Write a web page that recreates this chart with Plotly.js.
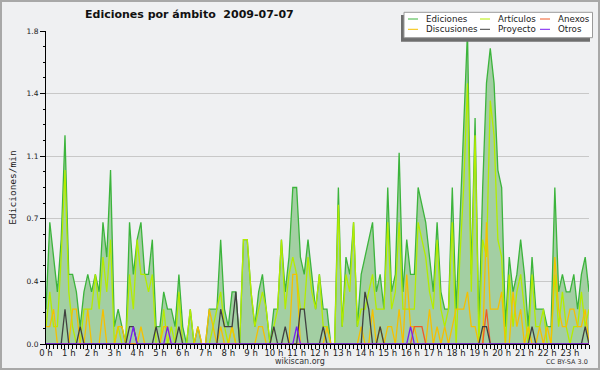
<!DOCTYPE html>
<html><head><meta charset="utf-8">
<script src="https://cdn.plot.ly/plotly-3.0.1.min.js"></script>
<style>html,body{margin:0;padding:0;background:#eff0f2;} #chart{width:600px;height:370px;}</style>
</head><body><div id="chart"></div>
<script>
// ---- data (10-minute slots, edits per minute) ----
const hourLabels = ["0 h","1 h","2 h","3 h","4 h","5 h","6 h","7 h","8 h","9 h","10 h","11 h",
  "12 h","13 h","14 h","15 h","16 h","17 h","18 h","19 h","20 h","21 h","22 h","23 h"];
const hourTicks = [0,6,12,18,24,30,36,42,48,54,60,66,72,78,84,90,96,102,108,114,120,126,132,138];
const yTickVals = [0, 0.36, 0.72, 1.08, 1.44, 1.8];
const yTickText = ["0.0","0.4","0.7","1.1","1.4","1.8"];
const seriesNames = ["Ediciones","Artículos","Anexos","Discusiones","Proyecto","Otros"];

const ediciones = [
 0.2,0.7,0.5,0.3,0.6,1.2,0.4,0.4,0.3,0.1,
 0.3,0.4,0.3,0.4,0.3,0.7,0.5,1.0,0.1,0.2,
 0.1,0.0,0.7,0.4,0.6,0.7,0.4,0.4,0.6,0.1,
 0.1,0.3,0.2,0.2,0.1,0.4,0.1,0.0,0.2,0.0,
 0.1,0.0,0.0,0.2,0.2,0.2,0.6,0.2,0.1,0.3,
 0.3,0.0,0.6,0.6,0.3,0.1,0.3,0.4,0.2,0.0,
 0.2,0.2,0.6,0.3,0.5,0.9,0.9,0.5,0.4,0.6,
 0.4,0.2,0.4,0.2,0.2,0.0,0.0,0.9,0.1,0.5,
 0.4,0.7,0.1,0.4,0.5,0.6,0.7,0.3,0.4,0.2,
 0.9,0.3,0.4,1.1,0.3,0.6,0.4,0.4,0.9,0.8,
 0.7,0.5,0.3,0.7,0.3,0.2,0.2,0.9,0.2,0.7,
 1.2,1.8,0.4,1.3,0.1,0.9,1.5,1.7,1.5,1.0,
 0.9,0.1,0.5,0.3,0.4,0.6,0.4,0.1,0.5,0.2,
 0.2,0.2,0.1,0.1,0.9,0.3,0.4,0.3,0.3,0.4,
 0.2,0.4,0.5,0.3];
const articulos = [
 0.1,0.3,0.1,0.1,0.5,1.0,0.3,0.1,0.0,0.0,
 0.2,0.2,0.2,0.4,0.2,0.5,0.3,0.6,0.0,0.1,
 0.0,0.0,0.4,0.2,0.6,0.4,0.4,0.3,0.4,0.0,
 0.0,0.2,0.0,0.1,0.0,0.3,0.0,0.0,0.2,0.0,
 0.0,0.0,0.0,0.0,0.1,0.2,0.3,0.1,0.0,0.1,
 0.0,0.0,0.6,0.6,0.3,0.1,0.2,0.3,0.2,0.0,
 0.1,0.2,0.6,0.2,0.4,0.5,0.4,0.2,0.2,0.5,
 0.3,0.2,0.4,0.1,0.1,0.0,0.0,0.8,0.1,0.4,
 0.3,0.7,0.1,0.2,0.2,0.3,0.4,0.2,0.2,0.2,
 0.7,0.2,0.3,0.7,0.2,0.2,0.2,0.2,0.7,0.6,
 0.5,0.3,0.2,0.6,0.2,0.1,0.2,0.7,0.0,0.5,
 0.9,1.5,0.3,1.2,0.0,0.6,0.5,1.4,1.2,0.6,
 0.5,0.0,0.4,0.1,0.3,0.4,0.2,0.0,0.4,0.1,
 0.1,0.2,0.0,0.0,0.4,0.1,0.3,0.1,0.0,0.1,
 0.1,0.3,0.1,0.2];
const discusiones = [
 0.1,0.1,0.2,0,0,0,0,0.2,0.2,0,
 0,0.2,0,0,0,0.2,0,0,0,0.1,
 0.1,0,0,0,0,0.1,0,0,0,0,
 0,0.1,0.1,0,0,0,0,0,0,0,
 0.1,0,0,0.2,0.1,0,0.1,0,0,0.1,
 0,0,0,0,0,0,0.1,0.1,0,0,
 0,0,0,0,0,0.4,0.4,0,0,0,
 0,0,0,0,0.1,0,0,0,0,0,
 0,0,0,0.1,0,0,0.2,0,0.1,0,
 0.1,0.1,0,0.2,0,0.4,0.1,0.1,0,0,
 0,0.2,0,0.1,0,0.1,0,0.1,0.2,0.2,
 0.2,0.3,0.1,0.1,0,0,0.7,0.2,0.2,0.2,
 0.3,0,0,0.3,0.1,0.2,0,0.1,0,0,
 0.1,0,0.1,0,0.5,0.2,0.1,0.1,0.2,0.2,
 0.1,0.1,0.2,0];
const proyecto = [
 0,0,0,0,0,0.2,0,0,0,0.1,
 0,0,0,0,0,0,0,0,0,0,
 0,0,0.1,0.1,0,0,0,0,0,0.1,
 0,0,0,0,0,0.1,0,0,0,0,
 0,0,0,0,0,0,0.2,0.1,0.1,0.1,
 0.3,0,0,0,0,0,0,0,0,0,
 0.1,0,0,0.1,0,0,0,0.2,0.2,0,
 0,0,0,0.1,0,0,0,0,0,0,
 0,0,0,0,0.3,0.2,0,0,0.1,0,
 0,0,0,0,0,0,0,0,0,0,
 0,0,0,0,0,0,0,0,0,0,
 0,0,0,0,0,0.1,0.1,0,0,0,
 0,0,0,0,0,0,0,0,0.1,0,
 0,0,0,0,0,0,0,0,0,0,
 0,0,0.1,0];
const anexos = [
 0,0,0,0,0,0,0,0,0,0,
 0,0,0,0,0,0,0,0,0,0,
 0,0,0,0,0,0,0,0,0,0,
 0,0,0,0,0,0,0,0,0,0,
 0,0,0,0,0,0,0,0,0,0,
 0,0,0,0,0,0,0,0,0,0,
 0,0,0,0,0,0,0,0,0,0,
 0,0,0,0,0,0,0,0,0,0,
 0,0,0,0,0,0,0,0,0,0,
 0,0,0,0,0,0,0,0.1,0.1,0.1,
 0,0,0,0,0,0,0,0,0,0,
 0,0,0,0,0,0,0.2,0,0,0,
 0,0,0,0,0,0,0,0,0,0,
 0,0,0,0,0,0,0,0,0,0,
 0,0,0,0];
const otros = [
 0,0,0,0,0,0,0,0,0,0,
 0,0,0,0,0,0,0,0,0,0,
 0,0,0,0.1,0,0,0,0,0,0,
 0,0,0.1,0,0,0,0,0,0,0,
 0,0,0,0,0,0,0,0,0,0,
 0,0,0,0,0,0,0,0,0,0,
 0,0,0,0,0,0,0.1,0,0,0,
 0,0,0,0,0,0,0,0,0,0,
 0,0,0,0,0,0,0,0,0,0,
 0,0,0,0,0,0,0.1,0,0,0,
 0,0,0,0,0,0,0,0,0,0,
 0,0,0,0,0,0,0,0,0,0,
 0,0,0,0,0,0,0,0,0,0,
 0,0,0,0,0,0,0,0,0,0,
 0,0,0,0];

const slots = ediciones.map((_, i) => i);

// ---- styling ----
const colors = {
  Ediciones: "#3cb43c", "Artículos": "#b4ec00", Anexos: "#f05a28",
  Discusiones: "#f5c000", Proyecto: "#404040", Otros: "#7a1cf0"
};
const seriesData = {
  Ediciones: ediciones, "Artículos": articulos, Anexos: anexos,
  Discusiones: discusiones, Proyecto: proyecto, Otros: otros
};
const drawOrder = ["Ediciones","Artículos","Discusiones","Anexos","Proyecto","Otros"];

const L = 46, R = 11, T = 31, B = 26, W = 600, H = 370;
const pw = W - L - R, ph = H - T - B;
const px = x => (x - L) / pw;
const py = y => (H - B - y) / ph;

const traces = drawOrder.map(name => {
  const t = {
    type: "scatter", mode: "lines", name: name,
    x: slots, y: seriesData[name],
    line: {color: colors[name], width: 1.3},
    showlegend: false, hoverinfo: "skip"
  };
  if (name === "Ediciones") { t.fill = "tozeroy"; t.fillcolor = "#a3cfa3"; }
  return t;
});

// manual legend (3 columns x 2 rows)
const shapes = [
  {type:"rect", xref:"paper", yref:"paper", x0:px(1), x1:px(599), y0:py(369), y1:py(1),
   line:{color:"#a8a8a8", width:2}, fillcolor:"rgba(0,0,0,0)", layer:"above"},
  {type:"rect", xref:"paper", yref:"paper", x0:px(401), x1:px(590), y0:py(41.7), y1:py(15),
   line:{width:0}, fillcolor:"#6e6e6e", layer:"above"},
  {type:"rect", xref:"paper", yref:"paper", x0:px(404), x1:px(592.5), y0:py(37.7), y1:py(12.3),
   line:{color:"#9a9a9a", width:1}, fillcolor:"#ffffff", layer:"above"}
];
const annotations = [];
const colX = [[408, 418, 424], [480, 490, 496], [540, 550, 556]];
const rowY = [19, 29.3];
seriesNames.forEach((name, k) => {
  const c = colX[k % 3], r = rowY[Math.floor(k / 3)];
  shapes.push({type:"line", xref:"paper", yref:"paper", x0:px(c[0]), x1:px(c[1]), y0:py(r), y1:py(r),
    line:{color:colors[name], width:1}, layer:"above"});
  annotations.push({xref:"paper", yref:"paper", x:px(c[2]), y:py(r), xanchor:"left", yanchor:"middle",
    text:name, showarrow:false, font:{family:"DejaVu Sans", size:8.7, color:"#222"}});
});
annotations.push({xref:"paper", yref:"paper", x:px(300), y:py(361), xanchor:"center", yanchor:"middle",
  text:"wikiscan.org", showarrow:false, font:{family:"DejaVu Sans", size:8, color:"#333"}});
annotations.push({xref:"paper", yref:"paper", x:px(590), y:py(362), xanchor:"right", yanchor:"middle",
  text:"CC BY-SA 3.0", showarrow:false, font:{family:"DejaVu Sans", size:6.5, color:"#333"}});

const layout = {
  width: W, height: H,
  margin: {l: L, r: R, t: T, b: B, pad: 0},
  paper_bgcolor: "#eff0f2", plot_bgcolor: "#eff0f2",
  showlegend: false,
  title: {text: "Ediciones por ámbito\u00a0\u00a02009-07-07", xref: "container", yref: "container",
    x: 85 / W, xanchor: "left", y: 1 - 14 / H, yanchor: "middle",
    font: {family: "DejaVu Sans", size: 11, weight: "bold", color: "#111"}},
  xaxis: {
    range: [0, slots.length - 1], tickmode: "array", tickvals: hourTicks, ticktext: hourLabels,
    showgrid: false, zeroline: false, showline: true, linecolor: "#000", linewidth: 1,
    ticks: "outside", ticklen: 4, tickcolor: "#000", tickwidth: 1,
    tickfont: {family: "DejaVu Sans", size: 8.5, color: "#222"}, ticklabelstandoff: -3,
    minor: {tickmode: "linear", tick0: 0, dtick: 1, ticks: "outside", ticklen: 4, tickcolor: "#000", showgrid: false},
    fixedrange: true
  },
  yaxis: {
    range: [0, 1.8], tickmode: "array", tickvals: yTickVals, ticktext: yTickText,
    showgrid: true, gridcolor: "#c8c8c8", gridwidth: 1, zeroline: false,
    showline: true, linecolor: "#000", linewidth: 1,
    ticks: "outside", ticklen: 5, tickcolor: "#000", tickwidth: 1,
    tickfont: {family: "DejaVu Sans", size: 7.5, color: "#222"},
    minor: {tickmode: "linear", tick0: 0, dtick: 0.09, ticks: "outside", ticklen: 2.5, tickcolor: "#000", showgrid: false},
    title: {text: "Ediciones/min", standoff: 8, font: {family: "DejaVu Sans Mono", size: 9.5, color: "#222"}},
    fixedrange: true
  },
  shapes: shapes,
  annotations: annotations
};

Plotly.newPlot("chart", traces, layout, {staticPlot: true, displayModeBar: false});
</script>
</body></html>
